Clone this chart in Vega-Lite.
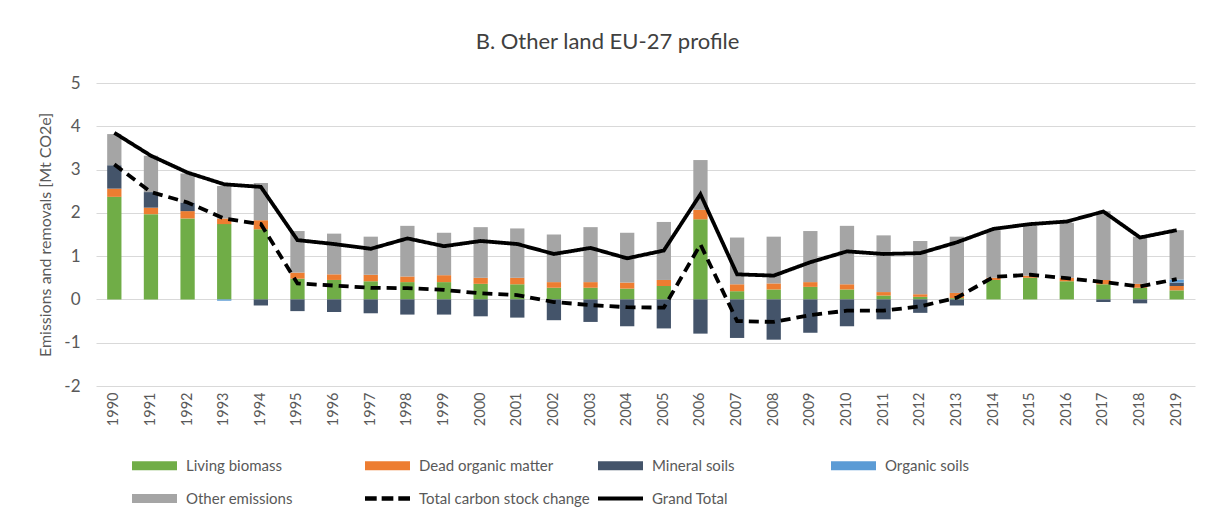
{
  "$schema": "https://vega.github.io/schema/vega-lite/v6.json",
  "width": 1099,
  "height": 303,
  "autosize": "none",
  "padding": {"left": 96, "top": 83, "right": 19, "bottom": 131},
  "background": "white",
  "config": {"font": "Lato", "view": {"stroke": null}},
  "title": {"text": "B. Other land EU-27 profile", "fontSize": 22, "fontWeight": "normal", "color": "#404040", "anchor": "middle", "frame": "group", "dx": -38, "offset": 20},
  "datasets": {
    "bars": [
      {"year": "1990", "series": "Living biomass", "value": 2.37}, {"year": "1990", "series": "Dead organic matter", "value": 0.19}, {"year": "1990", "series": "Mineral soils", "value": 0.54}, {"year": "1990", "series": "Other emissions", "value": 0.72},
      {"year": "1991", "series": "Living biomass", "value": 1.97}, {"year": "1991", "series": "Dead organic matter", "value": 0.15}, {"year": "1991", "series": "Mineral soils", "value": 0.36}, {"year": "1991", "series": "Other emissions", "value": 0.84},
      {"year": "1992", "series": "Living biomass", "value": 1.87}, {"year": "1992", "series": "Dead organic matter", "value": 0.17}, {"year": "1992", "series": "Mineral soils", "value": 0.20}, {"year": "1992", "series": "Other emissions", "value": 0.67},
      {"year": "1993", "series": "Living biomass", "value": 1.74}, {"year": "1993", "series": "Dead organic matter", "value": 0.13}, {"year": "1993", "series": "Organic soils", "value": -0.03}, {"year": "1993", "series": "Other emissions", "value": 0.75},
      {"year": "1994", "series": "Living biomass", "value": 1.62}, {"year": "1994", "series": "Dead organic matter", "value": 0.21}, {"year": "1994", "series": "Mineral soils", "value": -0.14}, {"year": "1994", "series": "Other emissions", "value": 0.86},
      {"year": "1995", "series": "Living biomass", "value": 0.48}, {"year": "1995", "series": "Dead organic matter", "value": 0.14}, {"year": "1995", "series": "Mineral soils", "value": -0.27}, {"year": "1995", "series": "Other emissions", "value": 0.96},
      {"year": "1996", "series": "Living biomass", "value": 0.45}, {"year": "1996", "series": "Dead organic matter", "value": 0.13}, {"year": "1996", "series": "Mineral soils", "value": -0.29}, {"year": "1996", "series": "Other emissions", "value": 0.94},
      {"year": "1997", "series": "Living biomass", "value": 0.42}, {"year": "1997", "series": "Dead organic matter", "value": 0.15}, {"year": "1997", "series": "Mineral soils", "value": -0.32}, {"year": "1997", "series": "Other emissions", "value": 0.88},
      {"year": "1998", "series": "Living biomass", "value": 0.40}, {"year": "1998", "series": "Dead organic matter", "value": 0.13}, {"year": "1998", "series": "Mineral soils", "value": -0.35}, {"year": "1998", "series": "Other emissions", "value": 1.17},
      {"year": "1999", "series": "Living biomass", "value": 0.40}, {"year": "1999", "series": "Dead organic matter", "value": 0.16}, {"year": "1999", "series": "Mineral soils", "value": -0.35}, {"year": "1999", "series": "Other emissions", "value": 0.98},
      {"year": "2000", "series": "Living biomass", "value": 0.36}, {"year": "2000", "series": "Dead organic matter", "value": 0.14}, {"year": "2000", "series": "Mineral soils", "value": -0.39}, {"year": "2000", "series": "Other emissions", "value": 1.17},
      {"year": "2001", "series": "Living biomass", "value": 0.35}, {"year": "2001", "series": "Dead organic matter", "value": 0.15}, {"year": "2001", "series": "Mineral soils", "value": -0.42}, {"year": "2001", "series": "Other emissions", "value": 1.14},
      {"year": "2002", "series": "Living biomass", "value": 0.27}, {"year": "2002", "series": "Dead organic matter", "value": 0.13}, {"year": "2002", "series": "Mineral soils", "value": -0.48}, {"year": "2002", "series": "Other emissions", "value": 1.10},
      {"year": "2003", "series": "Living biomass", "value": 0.27}, {"year": "2003", "series": "Dead organic matter", "value": 0.13}, {"year": "2003", "series": "Mineral soils", "value": -0.52}, {"year": "2003", "series": "Other emissions", "value": 1.27},
      {"year": "2004", "series": "Living biomass", "value": 0.25}, {"year": "2004", "series": "Dead organic matter", "value": 0.14}, {"year": "2004", "series": "Mineral soils", "value": -0.62}, {"year": "2004", "series": "Other emissions", "value": 1.15},
      {"year": "2005", "series": "Living biomass", "value": 0.31}, {"year": "2005", "series": "Dead organic matter", "value": 0.14}, {"year": "2005", "series": "Mineral soils", "value": -0.67}, {"year": "2005", "series": "Other emissions", "value": 1.34},
      {"year": "2006", "series": "Living biomass", "value": 1.85}, {"year": "2006", "series": "Dead organic matter", "value": 0.22}, {"year": "2006", "series": "Mineral soils", "value": -0.79}, {"year": "2006", "series": "Other emissions", "value": 1.15},
      {"year": "2007", "series": "Living biomass", "value": 0.19}, {"year": "2007", "series": "Dead organic matter", "value": 0.16}, {"year": "2007", "series": "Mineral soils", "value": -0.89}, {"year": "2007", "series": "Other emissions", "value": 1.08},
      {"year": "2008", "series": "Living biomass", "value": 0.23}, {"year": "2008", "series": "Dead organic matter", "value": 0.14}, {"year": "2008", "series": "Mineral soils", "value": -0.93}, {"year": "2008", "series": "Other emissions", "value": 1.08},
      {"year": "2009", "series": "Living biomass", "value": 0.29}, {"year": "2009", "series": "Dead organic matter", "value": 0.11}, {"year": "2009", "series": "Mineral soils", "value": -0.77}, {"year": "2009", "series": "Other emissions", "value": 1.18},
      {"year": "2010", "series": "Living biomass", "value": 0.23}, {"year": "2010", "series": "Dead organic matter", "value": 0.12}, {"year": "2010", "series": "Mineral soils", "value": -0.62}, {"year": "2010", "series": "Other emissions", "value": 1.35},
      {"year": "2011", "series": "Living biomass", "value": 0.09}, {"year": "2011", "series": "Dead organic matter", "value": 0.08}, {"year": "2011", "series": "Mineral soils", "value": -0.46}, {"year": "2011", "series": "Other emissions", "value": 1.31},
      {"year": "2012", "series": "Living biomass", "value": 0.06}, {"year": "2012", "series": "Dead organic matter", "value": 0.06}, {"year": "2012", "series": "Mineral soils", "value": -0.31}, {"year": "2012", "series": "Other emissions", "value": 1.23},
      {"year": "2013", "series": "Living biomass", "value": 0.03}, {"year": "2013", "series": "Dead organic matter", "value": 0.12}, {"year": "2013", "series": "Mineral soils", "value": -0.14}, {"year": "2013", "series": "Other emissions", "value": 1.30},
      {"year": "2014", "series": "Living biomass", "value": 0.45}, {"year": "2014", "series": "Dead organic matter", "value": 0.05}, {"year": "2014", "series": "Other emissions", "value": 1.10},
      {"year": "2015", "series": "Living biomass", "value": 0.50}, {"year": "2015", "series": "Dead organic matter", "value": 0.05}, {"year": "2015", "series": "Other emissions", "value": 1.16},
      {"year": "2016", "series": "Living biomass", "value": 0.42}, {"year": "2016", "series": "Dead organic matter", "value": 0.08}, {"year": "2016", "series": "Other emissions", "value": 1.27},
      {"year": "2017", "series": "Living biomass", "value": 0.35}, {"year": "2017", "series": "Dead organic matter", "value": 0.10}, {"year": "2017", "series": "Mineral soils", "value": -0.06}, {"year": "2017", "series": "Other emissions", "value": 1.59},
      {"year": "2018", "series": "Living biomass", "value": 0.27}, {"year": "2018", "series": "Dead organic matter", "value": 0.09}, {"year": "2018", "series": "Mineral soils", "value": -0.09}, {"year": "2018", "series": "Other emissions", "value": 1.09},
      {"year": "2019", "series": "Living biomass", "value": 0.21}, {"year": "2019", "series": "Dead organic matter", "value": 0.10}, {"year": "2019", "series": "Mineral soils", "value": 0.08}, {"year": "2019", "series": "Organic soils", "value": 0.07}, {"year": "2019", "series": "Other emissions", "value": 1.14}
    ],
    "lines": [
      {"year": "1990", "series": "Total carbon stock change", "value": 3.12}, {"year": "1991", "series": "Total carbon stock change", "value": 2.48}, {"year": "1992", "series": "Total carbon stock change", "value": 2.24}, {"year": "1993", "series": "Total carbon stock change", "value": 1.87}, {"year": "1994", "series": "Total carbon stock change", "value": 1.74},
      {"year": "1995", "series": "Total carbon stock change", "value": 0.37}, {"year": "1996", "series": "Total carbon stock change", "value": 0.32}, {"year": "1997", "series": "Total carbon stock change", "value": 0.27}, {"year": "1998", "series": "Total carbon stock change", "value": 0.26}, {"year": "1999", "series": "Total carbon stock change", "value": 0.22},
      {"year": "2000", "series": "Total carbon stock change", "value": 0.14}, {"year": "2001", "series": "Total carbon stock change", "value": 0.10}, {"year": "2002", "series": "Total carbon stock change", "value": -0.06}, {"year": "2003", "series": "Total carbon stock change", "value": -0.13}, {"year": "2004", "series": "Total carbon stock change", "value": -0.18},
      {"year": "2005", "series": "Total carbon stock change", "value": -0.19}, {"year": "2006", "series": "Total carbon stock change", "value": 1.27}, {"year": "2007", "series": "Total carbon stock change", "value": -0.50}, {"year": "2008", "series": "Total carbon stock change", "value": -0.52}, {"year": "2009", "series": "Total carbon stock change", "value": -0.36},
      {"year": "2010", "series": "Total carbon stock change", "value": -0.26}, {"year": "2011", "series": "Total carbon stock change", "value": -0.26}, {"year": "2012", "series": "Total carbon stock change", "value": -0.16}, {"year": "2013", "series": "Total carbon stock change", "value": 0.04}, {"year": "2014", "series": "Total carbon stock change", "value": 0.52},
      {"year": "2015", "series": "Total carbon stock change", "value": 0.57}, {"year": "2016", "series": "Total carbon stock change", "value": 0.49}, {"year": "2017", "series": "Total carbon stock change", "value": 0.40}, {"year": "2018", "series": "Total carbon stock change", "value": 0.30}, {"year": "2019", "series": "Total carbon stock change", "value": 0.47},
      {"year": "1990", "series": "Grand Total", "value": 3.85}, {"year": "1991", "series": "Grand Total", "value": 3.32}, {"year": "1992", "series": "Grand Total", "value": 2.93}, {"year": "1993", "series": "Grand Total", "value": 2.66}, {"year": "1994", "series": "Grand Total", "value": 2.60},
      {"year": "1995", "series": "Grand Total", "value": 1.37}, {"year": "1996", "series": "Grand Total", "value": 1.28}, {"year": "1997", "series": "Grand Total", "value": 1.17}, {"year": "1998", "series": "Grand Total", "value": 1.41}, {"year": "1999", "series": "Grand Total", "value": 1.23},
      {"year": "2000", "series": "Grand Total", "value": 1.35}, {"year": "2001", "series": "Grand Total", "value": 1.28}, {"year": "2002", "series": "Grand Total", "value": 1.05}, {"year": "2003", "series": "Grand Total", "value": 1.19}, {"year": "2004", "series": "Grand Total", "value": 0.95},
      {"year": "2005", "series": "Grand Total", "value": 1.13}, {"year": "2006", "series": "Grand Total", "value": 2.43}, {"year": "2007", "series": "Grand Total", "value": 0.58}, {"year": "2008", "series": "Grand Total", "value": 0.55}, {"year": "2009", "series": "Grand Total", "value": 0.86},
      {"year": "2010", "series": "Grand Total", "value": 1.11}, {"year": "2011", "series": "Grand Total", "value": 1.05}, {"year": "2012", "series": "Grand Total", "value": 1.07}, {"year": "2013", "series": "Grand Total", "value": 1.32}, {"year": "2014", "series": "Grand Total", "value": 1.63},
      {"year": "2015", "series": "Grand Total", "value": 1.74}, {"year": "2016", "series": "Grand Total", "value": 1.80}, {"year": "2017", "series": "Grand Total", "value": 2.03}, {"year": "2018", "series": "Grand Total", "value": 1.43}, {"year": "2019", "series": "Grand Total", "value": 1.60}
    ]
  },
  "encoding": {
    "x": {"field": "year", "type": "ordinal", "scale": {"paddingInner": 0, "paddingOuter": 0},
      "axis": {"title": null, "labelAngle": -90, "labelFontSize": 14.5, "labelColor": "#595959", "ticks": false, "domain": false, "labelPadding": 6, "grid": false}},
    "y": {"field": "value", "type": "quantitative", "scale": {"domain": [-2, 5], "nice": false, "zero": false},
      "axis": {"values": [-2, -1, 0, 1, 2, 3, 4, 5], "labelExpr": "'' + datum.value", "grid": true, "gridColor": "#D9D9D9", "gridWidth": 1, "domain": false, "ticks": false,
        "labelFontSize": 17, "labelColor": "#595959", "labelPadding": 16,
        "title": "Emissions and removals [Mt CO2e]", "titleFontSize": 16, "titleFontWeight": "normal", "titleColor": "#595959", "titlePadding": 10}}
  },
  "layer": [
    {
      "data": {"name": "bars"},
      "transform": [
        {"calculate": "indexof(['Living biomass', 'Dead organic matter', 'Mineral soils', 'Organic soils', 'Other emissions'], datum.series)", "as": "stackOrder"}
      ],
      "mark": {"type": "bar", "width": {"band": 0.39}},
      "encoding": {
        "y": {"field": "value", "type": "quantitative", "stack": "zero"},
        "order": {"field": "stackOrder", "type": "quantitative", "sort": "ascending"},
        "color": {"field": "series", "type": "nominal",
          "scale": {"domain": ["Living biomass", "Dead organic matter", "Mineral soils", "Organic soils", "Other emissions", "Total carbon stock change", "Grand Total"],
            "range": ["#70AD47", "#ED7D31", "#44546A", "#5B9BD5", "#A5A5A5", "#000000", "#000000"]},
          "legend": {"orient": "none", "legendX": 36, "legendY": 360, "direction": "horizontal", "columns": 4, "gridAlign": "all",
            "columnPadding": 8, "rowPadding": 2, "symbolType": "M-1,-0.2H1V0.2H-1Z", "symbolSize": 2025, "symbolStrokeWidth": 0,
            "labelFontSize": 15, "labelColor": "#595959", "labelOffset": 9, "labelLimit": 300, "title": null,
            "values": ["Living biomass", "Dead organic matter", "Mineral soils", "Organic soils", "Other emissions", "Total carbon stock change", "Grand Total"],
            "encode": {"symbols": {"update": {
              "fill": {"scale": "color", "field": "value"},
              "fillOpacity": {"value": 1},
              "strokeWidth": {"value": 0},
              "shape": {"signal": "datum.value === 'Total carbon stock change' ? 'M-1,-0.1H-0.48V0.1H-1Z M-0.26,-0.1H0.26V0.1H-0.26Z M0.48,-0.1H1V0.1H0.48Z' : (datum.value === 'Grand Total' ? 'M-1,-0.09H1V0.09H-1Z' : 'M-1,-0.2H1V0.2H-1Z')"}
            }}}}
        }
      }
    },
    {
      "data": {"name": "lines"},
      "mark": {"type": "line", "strokeWidth": 3.8, "strokeCap": "butt", "strokeJoin": "miter"},
      "encoding": {
        "color": {"field": "series", "type": "nominal"},
        "strokeDash": {"field": "series", "type": "nominal", "scale": {"domain": ["Total carbon stock change", "Grand Total"], "range": [[10, 6], [1, 0]]}, "legend": null}
      }
    }
  ]
}
